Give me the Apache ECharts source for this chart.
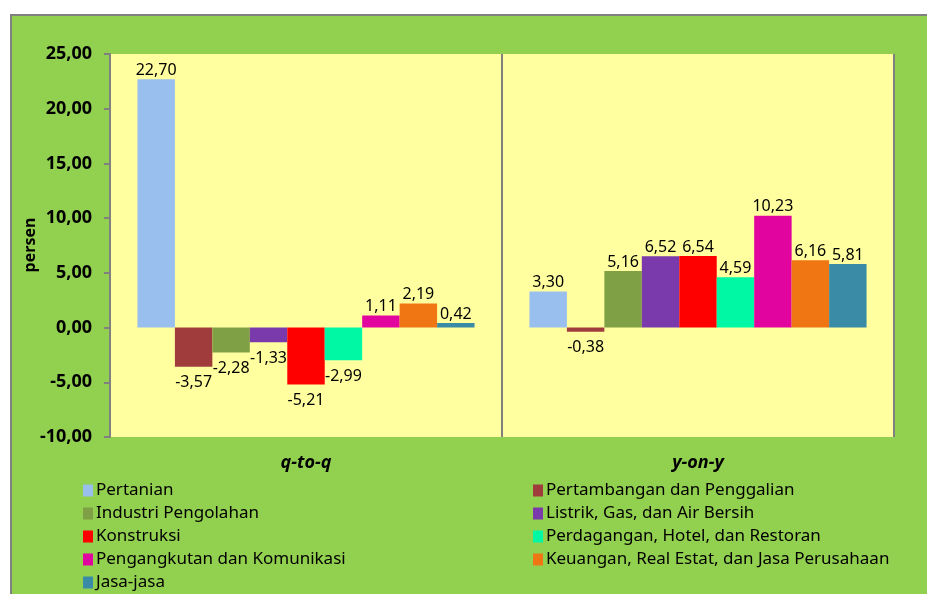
<!doctype html>
<html lang="id">
<head>
    <meta charset="UTF-8">
    <title>Pertumbuhan PDRB</title>
    <script src="https://cdn.jsdelivr.net/npm/echarts@6/dist/echarts.min.js"></script>
    <style>
        html, body { margin: 0; padding: 0; background: #fff; }
        #chart { width: 927px; height: 594px; }
    </style>
</head>
<body>
<div id="chart"></div>
<script>
    // kategori dan data
    var periods = ['q-to-q', 'y-on-y'];
    var sectors = [
        'Pertanian',
        'Pertambangan dan Penggalian',
        'Industri Pengolahan',
        'Listrik, Gas, dan Air Bersih',
        'Konstruksi',
        'Perdagangan, Hotel, dan Restoran',
        'Pengangkutan dan Komunikasi',
        'Keuangan, Real Estat, dan Jasa Perusahaan',
        'Jasa-jasa'
    ];
    var qtoq = [22.70, -3.57, -2.28, -1.33, -5.21, -2.99, 1.11, 2.19, 0.42];
    var yony = [3.30, -0.38, 5.16, 6.52, 6.54, 4.59, 10.23, 6.16, 5.81];
    var yTicks = [-10, -5, 0, 5, 10, 15, 20, 25];
    var yName = 'persen';
    var colors = ['#99BFEF', '#A03C3C', '#80A045', '#7A3AAB', '#FF0000',
                  '#00F8A5', '#E2049E', '#F07614', '#3A8CA6'];

    var fontName = '"Noto Sans", "DejaVu Sans", sans-serif';

    function fmt(v) {
        return v.toFixed(2).replace('.', ',');
    }

    var series = [];
    for (var i = 0; i < sectors.length; i++) {
        var vals = [qtoq[i], yony[i]];
        series.push({
            name: sectors[i],
            type: 'bar',
            barGap: 0,
            barCategoryGap: '14%',
            itemStyle: { color: colors[i] },
            data: vals.map(function (v) {
                // label di luar ujung batang
                return {
                    value: v,
                    label: v < 0 ? { position: 'bottom', distance: 8 } : { position: 'top', distance: 1 }
                };
            }),
            label: {
                show: true,
                color: '#000',
                fontFamily: fontName,
                fontSize: 16,
                formatter: function (p) { return fmt(p.value); }
            }
        });
    }

    var leftNames = sectors.filter(function (s, i) { return i % 2 === 0; });
    var rightNames = sectors.filter(function (s, i) { return i % 2 === 1; });
    var legendBase = {
        orient: 'vertical',
        top: 477,
        height: 140,
        itemWidth: 10,
        itemHeight: 12,
        itemGap: 6,
        icon: 'rect',
        textStyle: { fontFamily: fontName, fontSize: 17, color: '#000', padding: [0, 0, 0, -2] }
    };

    var chart = echarts.init(document.getElementById('chart'));
    chart.setOption({
        animation: false,
        color: colors,
        graphic: [{
            type: 'rect',
            z: -10,
            shape: { x: 11, y: 15, width: 940, height: 600 },
            style: { fill: '#92D050', stroke: '#808080', lineWidth: 2 }
        }, {
            // judul sumbu y
            type: 'text',
            x: 30,
            y: 245,
            rotation: Math.PI / 2,
            style: {
                text: yName,
                fill: '#000',
                font: 'bold 16px ' + fontName,
                align: 'center',
                verticalAlign: 'middle'
            }
        }],
        grid: {
            left: 110,
            right: 33,
            top: 54,
            bottom: 157,
            show: true,
            backgroundColor: '#FFFFA0',
            borderWidth: 0
        },
        legend: [
            Object.assign({ left: 78, data: leftNames }, legendBase),
            Object.assign({ left: 528, data: rightNames }, legendBase)
        ],
        xAxis: {
            type: 'category',
            data: periods,
            axisLine: { show: false },
            axisTick: { show: false },
            splitLine: { show: true, lineStyle: { color: '#808080', width: 2 } },
            axisLabel: {
                margin: 17,
                color: '#000',
                fontFamily: fontName,
                fontSize: 18,
                fontWeight: 'bold',
                fontStyle: 'italic'
            }
        },
        yAxis: {
            type: 'value',
            min: yTicks[0],
            max: yTicks[yTicks.length - 1],
            interval: 5,
            axisLine: { show: true, lineStyle: { color: '#808080', width: 2 } },
            axisTick: { show: true, length: 6, lineStyle: { color: '#808080', width: 2 } },
            splitLine: { show: false },
            axisLabel: {
                margin: 18,
                color: '#000',
                fontFamily: fontName,
                fontSize: 18,
                fontWeight: 'bold',
                formatter: function (v) { return fmt(v); }
            }
        },
        series: series
    });
</script>
</body>
</html>
